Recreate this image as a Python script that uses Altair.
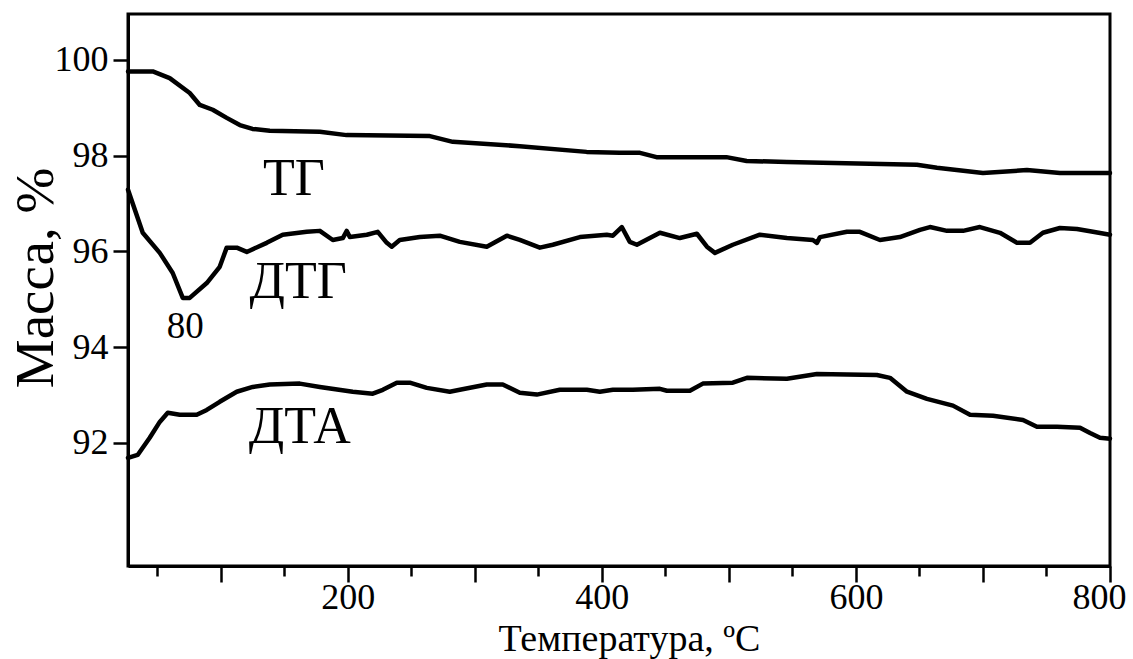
import altair as alt
import pandas as pd

# ---- data ----
tg_x = [27, 46.5, 59.8, 75.6, 83.5, 93.7, 104.7, 115, 125, 138.6, 178, 199, 264.6, 282.7, 335.4, 388, 414, 430, 443, 498,
        514, 545.7, 648, 663.8, 700, 734.6, 760.6, 800]
tg_y = [99.76, 99.76, 99.62, 99.31, 99.06, 98.96, 98.79, 98.64, 98.56, 98.52, 98.50, 98.43, 98.41, 98.29, 98.20, 98.08,
        98.06, 98.06, 97.97, 97.97, 97.89, 97.87, 97.81, 97.75, 97.64, 97.70, 97.64, 97.64]

dtg_x = [27, 38.6, 52.0, 62.2, 70.1, 75.6, 89.0, 99.2, 104.7, 112.6, 120.5, 136.2, 148.8, 167.7, 178.0, 188.2, 196.1,
         199.2, 201.6, 215.0, 223.6, 230.7, 234.6, 240.9, 256.7, 272.4, 288.2, 309.4, 325.2, 335.4, 351.2, 361.4, 382.7,
         403.9, 408.7, 415.7, 422.0, 427.6, 445.7, 461.4, 474.8, 482.7, 489.0, 503.1, 524.4, 545.7, 566.1, 569.3, 571.7,
         592.9, 603.1, 618.9, 634.6, 650.4, 658.3, 671.7, 684.3, 697.6, 713.4, 726.8, 737.0, 747.2, 760.6, 774.0, 786.6,
         800]
dtg_y = [97.29, 96.39, 95.97, 95.55, 95.03, 95.03, 95.34, 95.68, 96.08, 96.08, 95.99, 96.18, 96.35, 96.41, 96.43, 96.24,
         96.28, 96.43, 96.30, 96.35, 96.41, 96.18, 96.10, 96.24, 96.30, 96.33, 96.20, 96.10, 96.33, 96.24, 96.08, 96.14,
         96.30, 96.35, 96.33, 96.51, 96.20, 96.14, 96.39, 96.28, 96.37, 96.10, 95.97, 96.14, 96.35, 96.28, 96.24, 96.18,
         96.30, 96.41, 96.41, 96.24, 96.30, 96.45, 96.51, 96.43, 96.43, 96.51, 96.39, 96.18, 96.18, 96.39, 96.49, 96.47,
         96.41, 96.35]

dta_x = [27, 34.6, 44.1, 52.0, 58.3, 67.7, 81.1, 89.0, 99.2, 112.6, 125.2, 138.6, 162.2, 178.0, 203.9, 219.7, 227.6,
         238.6, 248.8, 262.2, 280.3, 288.2, 309.4, 322.0, 335.4, 348.8, 366.9, 388.2, 398.4, 408.7, 424.4, 445.7, 451.2,
         469.3, 479.5, 503.1, 514.2, 545.7, 569.3, 616.5, 626.8, 640.2, 655.9, 676.4, 689.8, 707.9, 731.5, 742.5, 758.3,
         776.4, 784.3, 792.1, 800]
dta_y = [91.69, 91.75, 92.11, 92.44, 92.63, 92.59, 92.59, 92.69, 92.86, 93.07, 93.17, 93.22, 93.24, 93.17, 93.07, 93.03,
         93.11, 93.26, 93.26, 93.15, 93.07, 93.11, 93.22, 93.22, 93.05, 93.01, 93.11, 93.11, 93.07, 93.11, 93.11, 93.13,
         93.09, 93.09, 93.24, 93.26, 93.36, 93.34, 93.44, 93.42, 93.36, 93.07, 92.92, 92.78, 92.59, 92.57, 92.48, 92.34,
         92.34, 92.32, 92.21, 92.11, 92.09]

label_text = ["ТГ", "ДТГ", "80", "ДТА"]
label_x = [157.5, 161.0, 72.0, 162.2]
label_y = [97.18, 95.03, 94.20, 92.00]
label_size = [52, 52, 37, 52]

major_x_ticks = [100, 200, 300, 400, 500, 600, 700, 800]
minor_x_ticks = [50, 150, 250, 350, 450, 550, 650, 750]
y_ticks = [92, 94, 96, 98, 100]

FONT = "'Liberation Serif', 'Times New Roman', 'DejaVu Serif', serif"

rows = []
for name, xs, ys in (("ТГ", tg_x, tg_y), ("ДТГ", dtg_x, dtg_y), ("ДТА", dta_x, dta_y)):
    for a, b in zip(xs, ys):
        rows.append({"series": name, "t": a, "m": b})
df = pd.DataFrame(rows)

labels = pd.DataFrame({"text": label_text, "t": label_x, "m": label_y, "s": label_size})
minor_df = pd.DataFrame({"t": minor_x_ticks})

xscale = alt.Scale(domain=[27, 800], nice=False, zero=False)
yscale = alt.Scale(domain=[89.43, 100.96], nice=False, zero=False)

x_axis = alt.Axis(
    orient="bottom",
    values=major_x_ticks, tickSize=16,
    labelExpr="datum.value % 200 === 0 ? datum.label : ''",
    labelOffset={"condition": {"test": "datum.value === 800", "value": -11}, "value": 0},
    labelPadding=-2, labelFont=FONT, labelFontSize=36, labelColor="black",
    labelFlush=False, labelOverlap=False,
    tickColor="black", tickWidth=2.5, domainColor="black", domainWidth=3, grid=False,
    title="Температура, ºC", titleFont=FONT, titleFontSize=38, titleFontWeight="normal", titleColor="black",
    titleX=501, titleY=84, titleBaseline="alphabetic", titleAlign="center",
)
x_minor_axis = alt.Axis(
    orient="bottom", values=minor_x_ticks, tickSize=10, tickColor="black", tickWidth=2.5,
    labels=False, domain=False, grid=False, title=None,
)
y_axis = alt.Axis(
    values=y_ticks, tickSize=15, labelPadding=5, labelFont=FONT, labelFontSize=36, labelColor="black",
    labelFlush=False, labelOverlap=False,
    tickColor="black", tickWidth=2.5, domainColor="black", domainWidth=3, grid=False,
    title="Масса, %", titleFont=FONT, titleFontSize=55, titleFontWeight="normal", titleColor="black",
    titleX=-76, titleY=263.5, titleBaseline="alphabetic", titleAlign="center", titleAngle=270,
)

lines = alt.Chart(df).mark_line(color="black", strokeWidth=4.5, strokeJoin="round", strokeCap="round").encode(
    x=alt.X("t:Q", scale=xscale, axis=x_axis),
    y=alt.Y("m:Q", scale=yscale, axis=y_axis),
    detail="series:N",
    order="t:Q",
)

minor = alt.Chart(minor_df).mark_point(opacity=0).encode(
    x=alt.X("t:Q", scale=xscale, axis=x_minor_axis),
)

texts = alt.Chart(labels).mark_text(font=FONT, color="black", align="center", baseline="alphabetic").encode(
    x=alt.X("t:Q", scale=xscale, axis=None),
    y=alt.Y("m:Q", scale=yscale, axis=y_axis),
    text="text:N",
    size=alt.Size("s:Q", scale=None, legend=None),
)

chart = alt.layer(lines, minor, texts).resolve_axis(x="independent").properties(
    width=982, height=552,
    padding={"left": 128, "top": 14, "right": 23, "bottom": 93},
    autosize=alt.AutoSizeParams(type="none"),
    background="white",
).configure_view(stroke="black", strokeWidth=3)

chart.save("out.html", embed_options={"renderer": "svg", "actions": False})
